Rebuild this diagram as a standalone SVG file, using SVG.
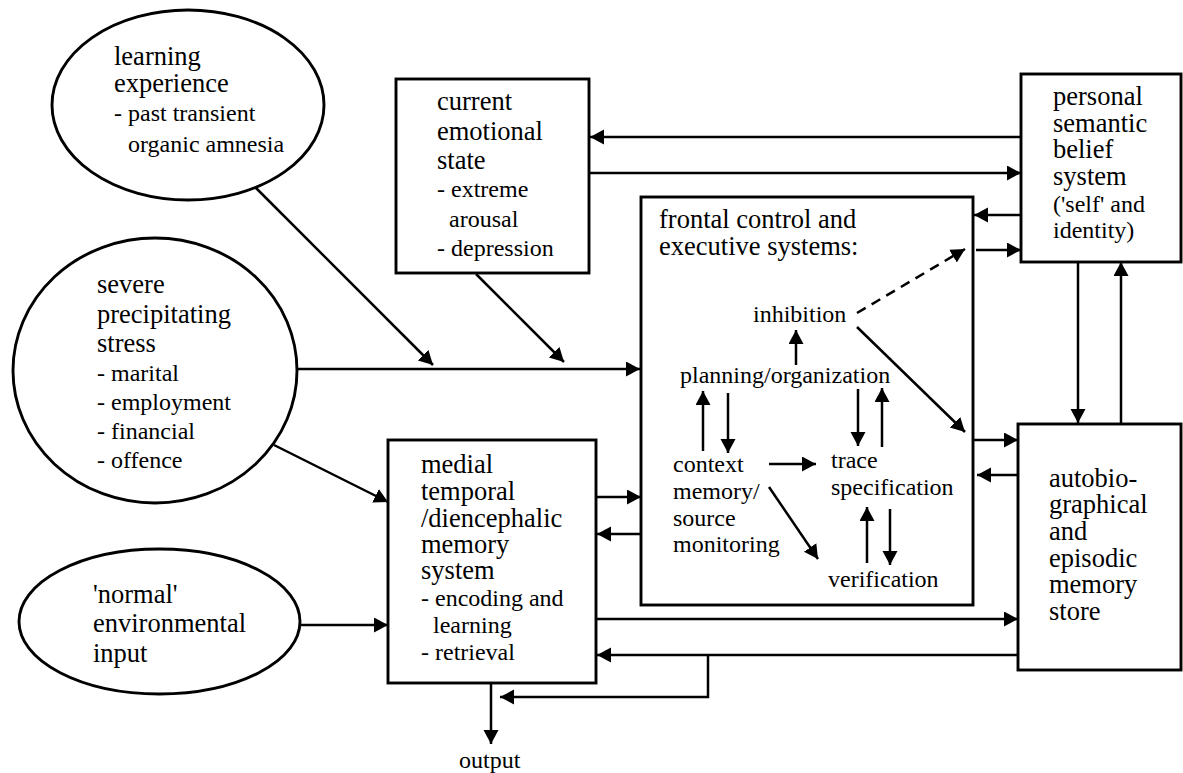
<svg xmlns="http://www.w3.org/2000/svg" width="1183" height="773" viewBox="0 0 1183 773">
<style>
.shape{fill:#fff;stroke:#000;stroke-width:2.9}
text{font-family:'Liberation Serif','Tinos','DejaVu Serif',serif;fill:#000}
.h{font-size:26.5px}
.s{font-size:24px}
.c{fill:none;stroke:#000;stroke-width:2.5}
.a{marker-end:url(#ah)}
.d{stroke-dasharray:10,7}
</style>
<defs>
<marker id="ah" markerWidth="15" markerHeight="16" refX="14" refY="7.5" orient="auto" markerUnits="userSpaceOnUse"><path d="M0,0 L14,7.5 L0,15 z" fill="#000"/></marker>
</defs>
<rect width="1183" height="773" fill="#fff"/>

<g id="learning">
<ellipse class="shape" cx="188" cy="105" rx="136" ry="95"/>
<text class="h" x="114" y="65">learning</text>
<text class="h" x="114" y="92">experience</text>
<text class="s" x="114" y="121">- past transient</text>
<text class="s" x="128" y="152">organic amnesia</text>
</g>

<g id="stress">
<ellipse class="shape" cx="155" cy="370.5" rx="142" ry="132.5"/>
<text class="h" x="97" y="293">severe</text>
<text class="h" x="97" y="323">precipitating</text>
<text class="h" x="97" y="352">stress</text>
<text class="s" x="97" y="381">- marital</text>
<text class="s" x="97" y="410">- employment</text>
<text class="s" x="97" y="439">- financial</text>
<text class="s" x="97" y="468">- offence</text>
</g>

<g id="normal">
<ellipse class="shape" cx="159.5" cy="621.5" rx="140.5" ry="72.5"/>
<text class="h" x="93" y="603">'normal'</text>
<text class="h" x="93" y="632">environmental</text>
<text class="h" x="93" y="662">input</text>
</g>

<g id="emotional">
<rect class="shape" x="396" y="79" width="193" height="194"/>
<text class="h" x="437" y="110">current</text>
<text class="h" x="437" y="140">emotional</text>
<text class="h" x="437" y="169">state</text>
<text class="s" x="437" y="197">- extreme</text>
<text class="s" x="449" y="227">arousal</text>
<text class="s" x="437" y="256">- depression</text>
</g>

<g id="frontal">
<rect class="shape" x="641" y="197" width="332" height="408"/>
<text class="h" x="659" y="228">frontal control and</text>
<text class="h" x="659" y="255">executive systems:</text>
</g>

<g id="inhibition"><text class="s" x="753" y="322">inhibition</text></g>
<g id="planning"><text class="s" x="680" y="383">planning/organization</text></g>
<g id="context">
<text class="s" x="673" y="472">context</text>
<text class="s" x="673" y="499">memory/</text>
<text class="s" x="673" y="526">source</text>
<text class="s" x="673" y="552">monitoring</text>
</g>
<g id="trace">
<text class="s" x="831" y="468">trace</text>
<text class="s" x="831" y="495">specification</text>
</g>
<g id="verification"><text class="s" x="828" y="587">verification</text></g>

<g id="personal">
<rect class="shape" x="1021" y="74" width="160" height="188"/>
<text class="h" x="1053" y="105">personal</text>
<text class="h" x="1053" y="132">semantic</text>
<text class="h" x="1053" y="158">belief</text>
<text class="h" x="1053" y="185">system</text>
<text class="s" x="1053" y="212">('self' and</text>
<text class="s" x="1053" y="238">identity)</text>
</g>

<g id="autobio">
<rect class="shape" x="1018" y="424" width="163" height="246"/>
<text class="h" x="1049" y="487">autobio-</text>
<text class="h" x="1049" y="513">graphical</text>
<text class="h" x="1049" y="540">and</text>
<text class="h" x="1049" y="567">episodic</text>
<text class="h" x="1049" y="593">memory</text>
<text class="h" x="1049" y="620">store</text>
</g>

<g id="medial">
<rect class="shape" x="388" y="440" width="208" height="243"/>
<text class="h" x="421" y="473">medial</text>
<text class="h" x="421" y="500">temporal</text>
<text class="h" x="421" y="527">/diencephalic</text>
<text class="h" x="421" y="553">memory</text>
<text class="h" x="421" y="579">system</text>
<text class="s" x="421" y="606">- encoding and</text>
<text class="s" x="433" y="633">learning</text>
<text class="s" x="421" y="660">- retrieval</text>
</g>

<g id="output"><text class="s" x="459" y="768">output</text></g>

<g id="connectors">
<line class="c a" x1="256" y1="188" x2="433" y2="365"/>
<line class="c a" x1="476" y1="274" x2="564" y2="362"/>
<line class="c a" x1="297" y1="369" x2="640" y2="369"/>
<line class="c a" x1="274" y1="445" x2="388" y2="502"/>
<line class="c a" x1="300" y1="625" x2="388" y2="625"/>
<line class="c a" x1="597" y1="497" x2="641" y2="497"/>
<line class="c a" x1="641" y1="534" x2="597" y2="534"/>
<line class="c a" x1="597" y1="619" x2="1018" y2="619"/>
<line class="c a" x1="1018" y1="655" x2="597" y2="655"/>
<polyline class="c a" points="708,655 708,697 500,697"/>
<line class="c a" x1="491" y1="684" x2="491" y2="744"/>
<line class="c a" x1="1021" y1="137" x2="590" y2="137"/>
<line class="c a" x1="589" y1="173" x2="1021" y2="173"/>
<line class="c a" x1="1021" y1="215" x2="974" y2="215"/>
<line class="c a" x1="976" y1="250" x2="1021" y2="250"/>
<line class="c a d" x1="857" y1="313" x2="965" y2="249"/>
<line class="c a" x1="1078" y1="262" x2="1078" y2="423"/>
<line class="c a" x1="1121" y1="424" x2="1121" y2="262"/>
<line class="c a" x1="857" y1="327" x2="965" y2="432"/>
<line class="c a" x1="973" y1="440" x2="1018" y2="440"/>
<line class="c a" x1="1018" y1="475" x2="977" y2="475"/>
<line class="c a" x1="796" y1="365" x2="796" y2="330"/>
<line class="c a" x1="703" y1="451" x2="703" y2="391"/>
<line class="c a" x1="728" y1="393" x2="728" y2="453"/>
<line class="c a" x1="769" y1="464" x2="816" y2="464"/>
<line class="c a" x1="769" y1="487" x2="818" y2="559"/>
<line class="c a" x1="858" y1="389" x2="858" y2="446"/>
<line class="c a" x1="882" y1="447" x2="882" y2="388"/>
<line class="c a" x1="867" y1="563" x2="867" y2="507"/>
<line class="c a" x1="890" y1="509" x2="890" y2="565"/>
</g>
</svg>
